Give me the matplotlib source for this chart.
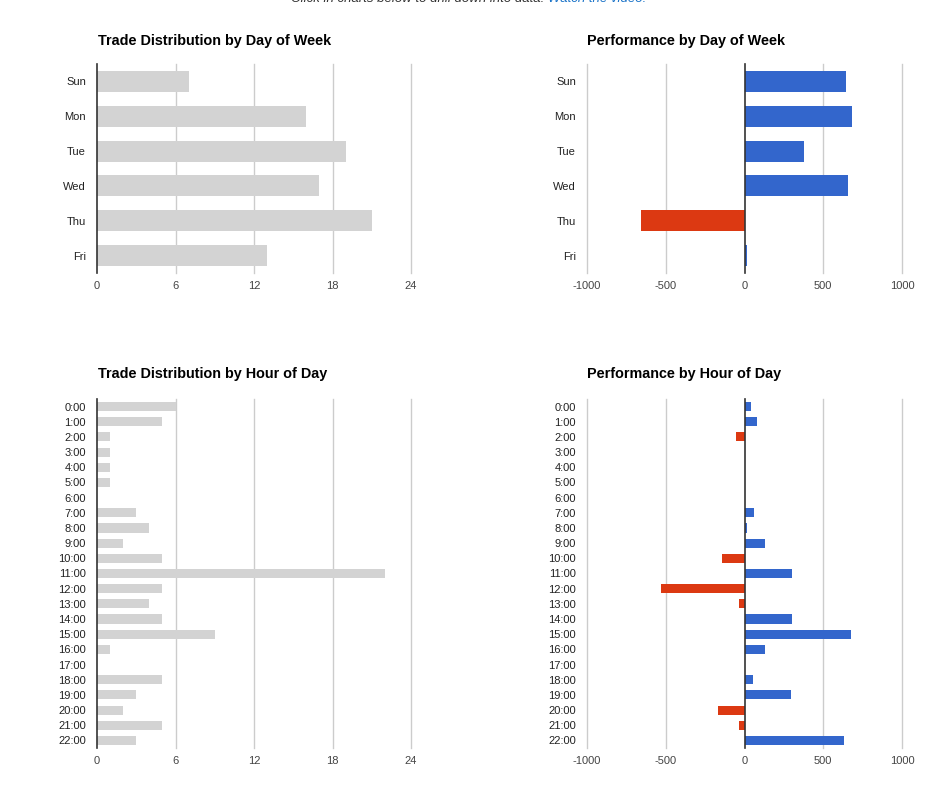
import numpy as np
import matplotlib.pyplot as plt

# Data
days = ['Sun', 'Mon', 'Tue', 'Wed', 'Thu', 'Fri']
day_trades = [7, 16, 19, 17, 21, 13]
day_perf = [645, 683, 380, 658, -654, 17]

hours = [f"{h}:00" for h in range(23)]
hour_trades = [6, 5, 1, 1, 1, 1, 0, 3, 4, 2, 5, 22, 5, 4, 5, 9, 1, 0, 5, 3, 2, 5, 3]
hour_perf = [44, 82, -51, 0, 0, 0, 0, 63, 19, 133, -146, 304,
             -532, -38, 304, 677, 127, 0, 57, 297, -171, -32, 633]

count_ticks = [0, 6, 12, 18, 24]
perf_ticks = [-1000, -500, 0, 500, 1000]

BLUE = '#3366cc'
RED = '#dc3912'
GRAY = '#d3d3d3'
GRID = '#cccccc'

plt.rcParams['font.family'] = ['Liberation Sans', 'DejaVu Sans']

W, H = 949, 786
fig = plt.figure(figsize=(W / 100, H / 100), dpi=100)


def make_axes(left, right, top, bottom):
    return fig.add_axes([left / W, 1 - bottom / H, (right - left) / W, (bottom - top) / H])


def style(ax, labels, ticks, xlim):
    n = len(labels)
    ax.set_ylim(n - 0.5, -0.5)
    ax.set_xlim(*xlim)
    ax.set_yticks(np.arange(n))
    ax.set_yticklabels(labels, fontsize=8, color='#222222')
    ax.set_xticks(ticks)
    ax.set_xticklabels([str(t) for t in ticks], fontsize=8, color='#444444')
    ax.tick_params(length=0)
    ax.tick_params(axis='y', pad=8)
    ax.tick_params(axis='x', pad=6)
    for s in ax.spines.values():
        s.set_visible(False)
    for t in ticks:
        if t != 0:
            ax.axvline(t, color=GRID, linewidth=1, zorder=0, clip_on=False)
    ax.axvline(0, color='#333333', linewidth=1.2, zorder=3, clip_on=False)


def count_chart(ax, labels, values):
    ax.barh(np.arange(len(labels)), values, height=0.6, color=GRAY, zorder=2)
    style(ax, labels, count_ticks, (0, 24))


def perf_chart(ax, labels, values):
    colors = [BLUE if v >= 0 else RED for v in values]
    ax.barh(np.arange(len(labels)), values, height=0.6, color=colors, zorder=2)
    style(ax, labels, perf_ticks, (-1000, 1000))


ax1 = make_axes(97, 411, 64, 273)
count_chart(ax1, days, day_trades)
ax2 = make_axes(587, 902, 64, 273)
perf_chart(ax2, days, day_perf)
ax3 = make_axes(97, 411, 399, 748)
count_chart(ax3, hours, hour_trades)
ax4 = make_axes(587, 902, 399, 748)
perf_chart(ax4, hours, hour_perf)

title_kw = dict(fontsize=10.4, fontweight='bold', color='black', va='center', ha='left')
fig.text(98 / W, 1 - 41 / H, 'Trade Distribution by Day of Week', **title_kw)
fig.text(587 / W, 1 - 41 / H, 'Performance by Day of Week', **title_kw)
fig.text(98 / W, 1 - 374 / H, 'Trade Distribution by Hour of Day', **title_kw)
fig.text(587 / W, 1 - 374 / H, 'Performance by Hour of Day', **title_kw)

# Header line, cut off by the top edge in the reference
fig.text(544 / W, 1 + 1 / H, 'Click in charts below to drill down into data.',
         fontsize=9.5, style='italic', color='#333333', va='center', ha='right')
fig.text(548 / W, 1 + 1 / H, 'Watch the video!',
         fontsize=9.5, style='italic', color='#1a73c8', va='center', ha='left')

fig.savefig('out.png', dpi=100)
